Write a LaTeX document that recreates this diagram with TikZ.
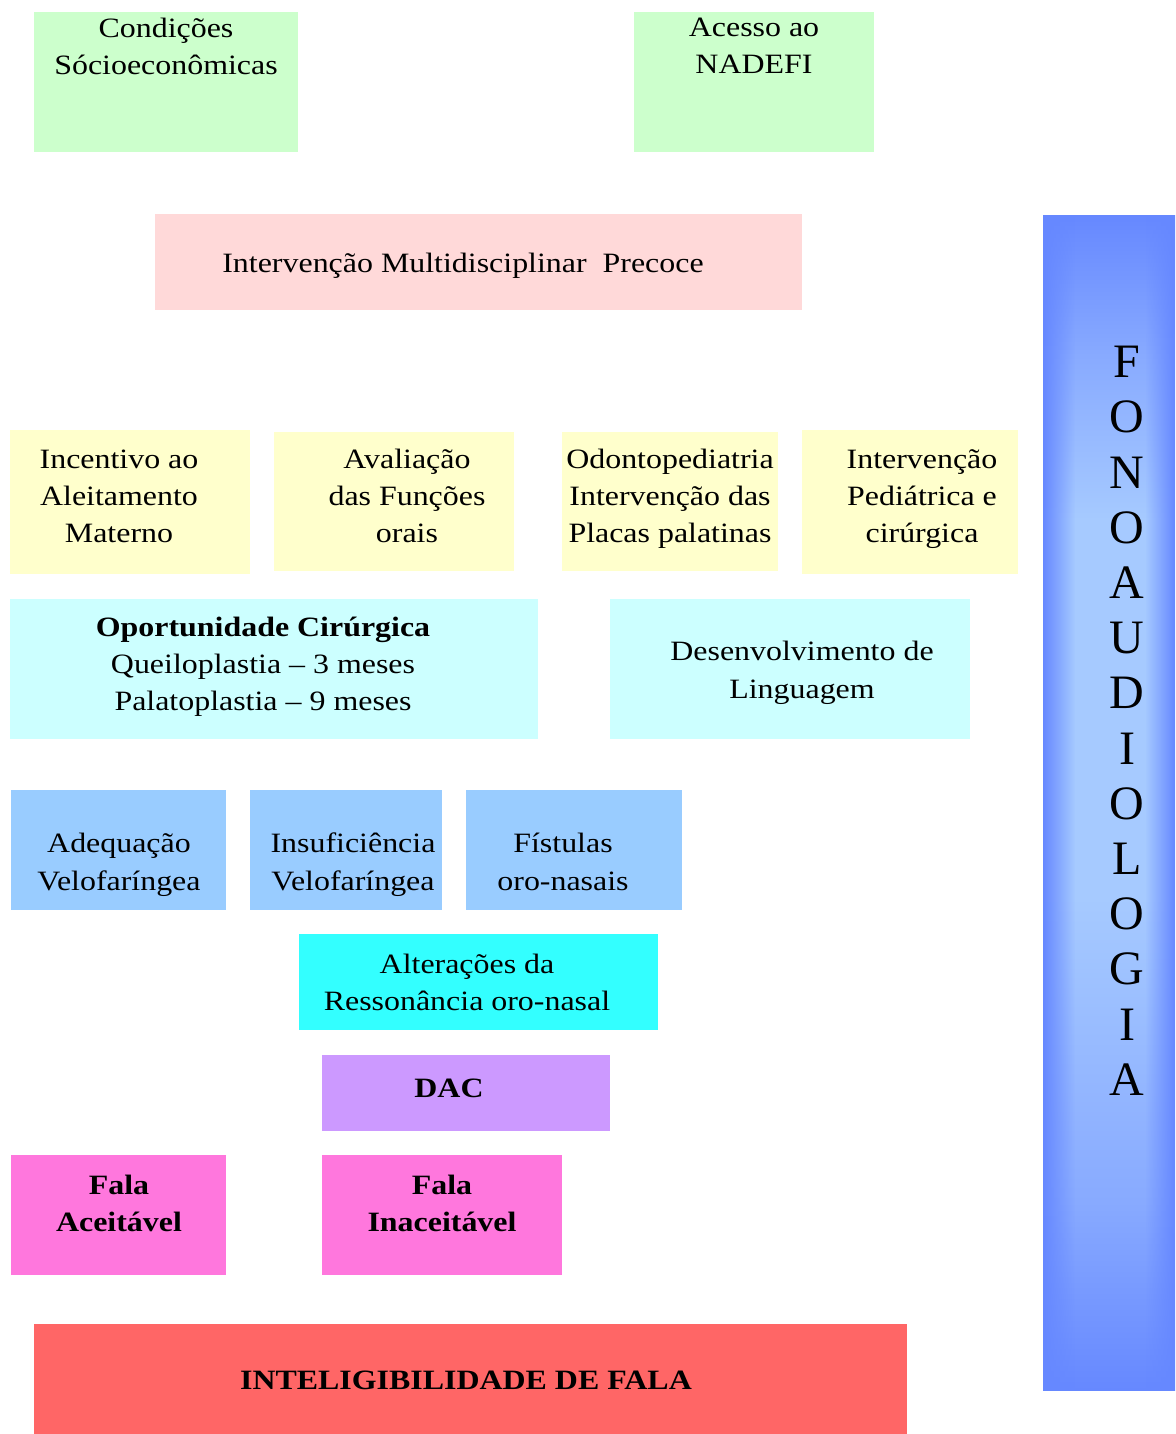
\documentclass[tikz,border=0pt]{standalone}
\usepackage{fontspec}
\setmainfont{Liberation Serif}[FakeStretch=1.14]
\newfontfamily\barfont{Liberation Serif}
\usetikzlibrary{fadings}
\definecolor{cgreen}{HTML}{CCFFCC}
\definecolor{cpink}{HTML}{FFD9D9}
\definecolor{cyel}{HTML}{FFFFCC}
\definecolor{ccyan}{HTML}{CCFFFF}
\definecolor{cblue}{HTML}{99CCFF}
\definecolor{caqua}{HTML}{33FFFF}
\definecolor{clil}{HTML}{CC99FF}
\definecolor{cmag}{HTML}{FF77DD}
\definecolor{cred}{HTML}{FF6666}
\definecolor{bardark}{HTML}{6688FF}
\definecolor{barmid}{HTML}{88AAFF}
\definecolor{barlight}{HTML}{A6CAFF}
\pgfdeclareverticalshading{barshade}{100bp}{
  color(0bp)=(bardark);
  color(25bp)=(bardark);
  color(33bp)=(barmid);
  color(46bp)=(barlight);
  color(62bp)=(barlight);
  color(69bp)=(barmid);
  color(75bp)=(bardark);
  color(100bp)=(bardark)}
\begin{document}
\begin{tikzpicture}[x=0.5pt,y=-0.5pt,
  bx/.style n args={2}{rectangle, draw=none, inner sep=0pt, minimum width=#1*0.5pt, minimum height=#2*0.5pt},
  txt/.style={align=center, inner sep=0pt, font=\fontsize{14}{18.5}\selectfont},
  letter/.style={inner sep=0pt, font=\barfont\fontsize{24}{24}\selectfont}]
\useasboundingbox (0,0) rectangle (1175,1434);
% top
\node[bx={264}{140}, fill=cgreen] (b1) at (166,82) {};
\node[txt] (t1) at (166,46) {Condições\\Sócioeconômicas};
\node[bx={240}{140}, fill=cgreen] (b2) at (754,82) {};
\node[txt] (t2) at (754,46) {Acesso ao\\NADEFI};
\node[bx={647}{96}, fill=cpink] (b3) at (478.5,262) {};
\node[txt] (t3) at (463,266) {Intervenção Multidisciplinar\ \ Precoce};
% yellow row
\node[bx={240}{144}, fill=cyel] (b4) at (130,502) {};
\node[txt] (t4) at (119,496) {Incentivo ao\\Aleitamento\\Materno};
\node[bx={240}{139}, fill=cyel] (b5) at (394,501.5) {};
\node[txt] (t5) at (407,496) {Avaliação\\das Funções\\orais};
\node[bx={216}{139}, fill=cyel] (b6) at (670,501.5) {};
\node[txt] (t6) at (670,499) {Odontopediatria\\Intervenção das\\Placas palatinas};
\node[bx={216}{144}, fill=cyel] (b7) at (910,502) {};
\node[txt] (t7) at (922,499) {Intervenção\\Pediátrica e\\cirúrgica};
% cyan row
\node[bx={528}{140}, fill=ccyan] (b8) at (274,669) {};
\node[txt] (t8) at (263,667) {\textbf{Oportunidade Cirúrgica}\\Queiloplastia – 3 meses\\Palatoplastia – 9 meses};
\node[bx={360}{140}, fill=ccyan] (b9) at (790,669) {};
\node[txt, font=\fontsize{14}{19}\selectfont] (t9) at (802,673) {Desenvolvimento de\\Linguagem};
% blue row
\node[bx={215}{120}, fill=cblue] (b10) at (118.5,850) {};
\node[txt, font=\fontsize{14}{19}\selectfont] (t10) at (119,865) {Adequação\\Velofaríngea};
\node[bx={192}{120}, fill=cblue] (b11) at (346,850) {};
\node[txt, font=\fontsize{14}{19}\selectfont] (t11) at (353,865) {Insuficiência\\Velofaríngea};
\node[bx={216}{120}, fill=cblue] (b12) at (574,850) {};
\node[txt, font=\fontsize{14}{19}\selectfont] (t12) at (563,862) {Fístulas\\oro-nasais};
% alteracoes
\node[bx={359}{96}, fill=caqua] (b13) at (478.5,982) {};
\node[txt] (t13) at (467,982) {Alterações da\\Ressonância oro-nasal};
% DAC
\node[bx={288}{76}, fill=clil] (b14) at (466,1093) {};
\node[txt] (t14) at (449,1088) {\textbf{DAC}};
% fala
\node[bx={215}{120}, fill=cmag] (b15) at (118.5,1215) {};
\node[txt] (t15) at (119,1203) {\textbf{Fala}\\\textbf{Aceitável}};
\node[bx={240}{120}, fill=cmag] (b16) at (442,1215) {};
\node[txt] (t16) at (442,1203) {\textbf{Fala}\\\textbf{Inaceitável}};
% inteligibilidade
\node[bx={873}{110}, fill=cred] (b17) at (470.5,1379) {};
\node[txt] (t17) at (466,1380) {\textbf{INTELIGIBILIDADE DE FALA}};
% side bar
\node[bx={132}{1175}, shading=barshade] (bar) at (1109,802.5) {};
\fill[bardark, path fading=east] (1043,215) rectangle (1075,1390);
\fill[bardark, path fading=west] (1145,215) rectangle (1175,1390);
\foreach \l [count=\i from 0] in {F,O,N,O,A,U,D,I,O,L,O,G,I,A}{
  \node[letter] (l\i) at (1127,{362+\i*55.2}) {\l};
}
\end{tikzpicture}
\end{document}
